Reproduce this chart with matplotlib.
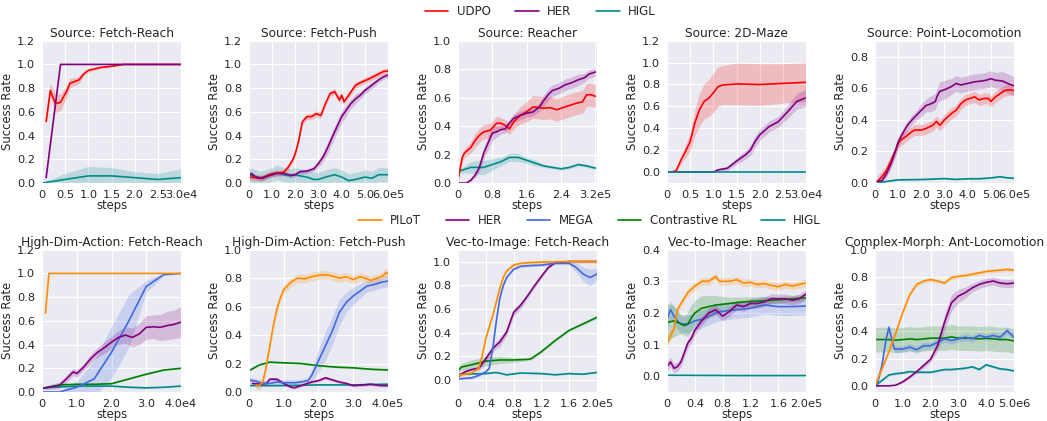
import matplotlib
matplotlib.use("Agg")
import matplotlib.pyplot as plt
import seaborn as sns
import numpy as np
from matplotlib.lines import Line2D

# colours
C_UDPO, C_HER, C_HIGL = "red", "purple", "darkcyan"
C_PILOT, C_MEGA, C_CRL = "darkorange", "royalblue", "green"

# ---- Source: Fetch-Reach (x in 1e4 steps)
FR_UDPO_X = [0.09, 0.18, 0.29, 0.4, 0.54, 0.6, 0.8, 0.9, 1.0, 1.27, 1.4, 1.6, 1.77, 2.0, 2.5, 3.0]
FR_UDPO = [0.52, 0.78, 0.67, 0.68, 0.78, 0.84, 0.87, 0.92, 0.95, 0.975, 0.98, 0.99, 1.0, 1.0, 1.0, 1.0]
FR_UDPO_SD = [0.035, 0.06, 0.08, 0.07, 0.05, 0.04, 0.03, 0.02, 0.015, 0.01, 0.01, 0.005, 0, 0, 0, 0]
FR_HER_X = [0.09, 0.4, 0.6, 3.0]
FR_HER = [0.045, 1.0, 1.0, 1.0]
FR_HIGL_X = [0, 0.5, 1.0, 1.5, 2.0, 2.5, 3.0]
FR_HIGL = [0.0, 0.03, 0.06, 0.06, 0.045, 0.03, 0.045]
FR_HIGL_SD = [0.0, 0.05, 0.08, 0.07, 0.05, 0.05, 0.075]

# ---- Source: Fetch-Push (1e5)
FP_UDPO_X = [0, 0.5, 1.0, 1.5, 1.7, 1.9, 2.0, 2.15, 2.3, 2.5, 2.7, 2.9, 3.1, 3.3, 3.5, 3.7, 3.9, 4.0, 4.1,
             4.3, 4.6, 4.9, 5.2, 5.5, 5.8, 6.0]
FP_UDPO = [0.05, 0.04, 0.08, 0.09, 0.135, 0.2, 0.25, 0.36, 0.515, 0.56, 0.56, 0.585, 0.57, 0.67, 0.755,
           0.77, 0.70, 0.74, 0.685, 0.74, 0.825, 0.855, 0.88, 0.91, 0.94, 0.945]
FP_HER_X = [0, 0.1, 0.3, 0.6, 0.8, 1.0, 1.2, 1.5, 1.8, 2.0, 2.2, 2.5, 2.8, 3.0, 3.2, 3.4, 3.6, 3.8, 4.0,
            4.2, 4.4, 4.6, 4.8, 5.0, 5.3, 5.6, 5.8, 6.0]
FP_HER = [0.06, 0.08, 0.05, 0.04, 0.06, 0.07, 0.08, 0.08, 0.065, 0.07, 0.095, 0.1, 0.12, 0.165, 0.22, 0.3,
          0.39, 0.475, 0.56, 0.615, 0.67, 0.71, 0.74, 0.78, 0.825, 0.87, 0.895, 0.91]
FP_HER_SD = [0.02] * 13 + [0.03, 0.04, 0.05, 0.05, 0.05, 0.05, 0.05, 0.04, 0.04, 0.03, 0.03, 0.03, 0.02, 0.02, 0.02]
FP_HIGL_X = [0, 0.5, 1.0, 1.2, 1.5, 1.8, 2.0, 2.2, 2.5, 2.8, 3.0, 3.3, 3.5, 3.7, 4.0, 4.3, 4.6, 5.0, 5.3, 5.6, 6.0]
FP_HIGL = [0.07, 0.04, 0.07, 0.09, 0.07, 0.06, 0.07, 0.06, 0.05, 0.03, 0.03, 0.05, 0.06, 0.07, 0.05, 0.02,
           0.03, 0.05, 0.04, 0.07, 0.07]

# ---- Source: Reacher (1e5)
RE_UDPO_X = [0, 0.1, 0.15, 0.3, 0.4, 0.5, 0.6, 0.75, 0.9, 1.0, 1.1, 1.2, 1.3, 1.45, 1.6, 1.75, 1.9, 2.0,
             2.15, 2.3, 2.45, 2.6, 2.75, 2.9, 3.0, 3.1, 3.2]
RE_UDPO = [0.02, 0.18, 0.21, 0.25, 0.30, 0.335, 0.36, 0.37, 0.42, 0.42, 0.405, 0.38, 0.43, 0.475, 0.5, 0.535,
           0.53, 0.525, 0.53, 0.515, 0.53, 0.545, 0.56, 0.57, 0.62, 0.62, 0.61]
RE_UDPO_SD = [0.02, 0.03, 0.03, 0.04, 0.05, 0.05, 0.05, 0.05, 0.05, 0.04, 0.04, 0.04, 0.05, 0.06, 0.07,
              0.08, 0.08, 0.08, 0.08, 0.08, 0.08, 0.08, 0.08, 0.08, 0.08, 0.08, 0.08]
RE_HER_X = [0, 0.2, 0.3, 0.4, 0.5, 0.6, 0.7, 0.8, 0.9, 1.0, 1.1, 1.2, 1.3, 1.45, 1.6, 1.75, 1.9, 2.0, 2.1,
            2.2, 2.35, 2.5, 2.65, 2.8, 2.95, 3.05, 3.2]
RE_HER = [0.0, 0.0, 0.02, 0.055, 0.11, 0.21, 0.28, 0.35, 0.36, 0.375, 0.38, 0.42, 0.455, 0.475, 0.49, 0.5,
          0.535, 0.58, 0.62, 0.65, 0.665, 0.69, 0.705, 0.725, 0.74, 0.765, 0.78]
RE_HER_SD = [0, 0, 0.01, 0.02, 0.03, 0.04, 0.05, 0.05, 0.04, 0.03, 0.03, 0.03, 0.03, 0.03, 0.03, 0.03,
             0.03, 0.04, 0.04, 0.04, 0.04, 0.04, 0.04, 0.04, 0.03, 0.03, 0.03]
RE_HIGL_X = [0, 0.1, 0.3, 0.5, 0.6, 0.8, 1.0, 1.2, 1.4, 1.6, 1.8, 2.0, 2.2, 2.4, 2.6, 2.8, 3.0, 3.2]
RE_HIGL = [0.085, 0.09, 0.11, 0.11, 0.11, 0.13, 0.15, 0.18, 0.18, 0.16, 0.14, 0.12, 0.11, 0.10, 0.11, 0.13,
           0.12, 0.105]
RE_HIGL_SD = [0.01, 0.02, 0.04, 0.05, 0.05, 0.04, 0.03, 0.03, 0.03, 0.02, 0.02, 0.01, 0.01, 0.01, 0.01,
              0.01, 0.01, 0.01]

# ---- Source: 2D-Maze (1e4)
MZ_UDPO_X = [0, 0.1, 0.2, 0.3, 0.4, 0.5, 0.6, 0.7, 0.8, 0.9, 1.0, 1.1, 1.2, 1.5, 2.0, 2.5, 3.0]
MZ_UDPO = [0, 0, 0.015, 0.11, 0.19, 0.28, 0.45, 0.57, 0.645, 0.675, 0.725, 0.78, 0.795, 0.805, 0.80, 0.81, 0.82]
MZ_UDPO_SD = [0, 0, 0.01, 0.04, 0.06, 0.08, 0.12, 0.15, 0.16, 0.17, 0.18, 0.18, 0.18, 0.19, 0.19, 0.18, 0.18]
MZ_HER_X = [0, 1.0, 1.1, 1.3, 1.5, 1.7, 1.8, 1.9, 2.0, 2.2, 2.4, 2.6, 2.8, 3.0]
MZ_HER = [0, 0, 0.02, 0.035, 0.1, 0.16, 0.2, 0.28, 0.34, 0.415, 0.46, 0.55, 0.645, 0.68]
MZ_HER_SD = [0, 0, 0.01, 0.02, 0.03, 0.04, 0.05, 0.05, 0.05, 0.05, 0.05, 0.06, 0.07, 0.08]
MZ_HIGL_X = [0, 3.0]
MZ_HIGL = [0.0, 0.0]

# ---- Source: Point-Locomotion (1e5)
PL_UDPO_X = [0.1, 0.3, 0.5, 0.7, 0.9, 1.0, 1.1, 1.3, 1.5, 1.7, 2.0, 2.2, 2.5, 2.65, 2.8, 3.0, 3.3, 3.5, 3.7,
             3.9, 4.1, 4.3, 4.5, 4.7, 4.9, 5.0, 5.2, 5.4, 5.6, 5.8, 6.0]
PL_UDPO = [0.01, 0.04, 0.08, 0.145, 0.21, 0.25, 0.27, 0.29, 0.315, 0.335, 0.335, 0.345, 0.365, 0.39, 0.365,
           0.40, 0.44, 0.46, 0.50, 0.525, 0.535, 0.545, 0.525, 0.535, 0.535, 0.515, 0.545, 0.565, 0.585,
           0.59, 0.585]
PL_HER_X = [0.1, 0.3, 0.5, 0.7, 0.9, 1.0, 1.2, 1.4, 1.6, 1.8, 2.0, 2.2, 2.4, 2.6, 2.7, 2.8, 3.0, 3.3, 3.5,
            3.7, 4.0, 4.3, 4.6, 4.8, 5.0, 5.2, 5.5, 5.8, 6.0]
PL_HER = [0.01, 0.015, 0.06, 0.125, 0.21, 0.26, 0.315, 0.365, 0.40, 0.43, 0.46, 0.49, 0.50, 0.515, 0.555,
          0.58, 0.59, 0.61, 0.63, 0.62, 0.63, 0.64, 0.645, 0.65, 0.66, 0.65, 0.645, 0.625, 0.615]
PL_HER_SD = [0.01, 0.015, 0.02, 0.03, 0.03, 0.03, 0.03, 0.03, 0.03, 0.03, 0.04, 0.04, 0.05, 0.05, 0.05,
             0.06, 0.06, 0.05, 0.05, 0.05, 0.05, 0.05, 0.05, 0.05, 0.05, 0.05, 0.06, 0.06, 0.06]
PL_HIGL_X = [0.1, 0.5, 1.0, 2.0, 3.0, 3.5, 4.0, 4.5, 5.0, 5.4, 5.7, 6.0]
PL_HIGL = [0.0, 0.01, 0.02, 0.022, 0.028, 0.023, 0.027, 0.027, 0.032, 0.04, 0.033, 0.03]

# ---- High-Dim-Action: Fetch-Reach (1e4)
H1_PILOT_X = [0.1, 0.2, 4.0]
H1_PILOT = [0.665, 1.0, 1.0]
H1_HER_X = [0, 0.2, 0.5, 0.7, 0.9, 1.0, 1.2, 1.4, 1.6, 1.8, 2.0, 2.2, 2.4, 2.6, 2.8, 3.0, 3.2, 3.4, 3.6, 3.8, 4.0]
H1_HER = [0.03, 0.04, 0.055, 0.11, 0.17, 0.155, 0.21, 0.28, 0.335, 0.375, 0.42, 0.46, 0.48, 0.46, 0.49,
          0.545, 0.55, 0.545, 0.56, 0.57, 0.59]
H1_HER_SD = [0.01, 0.02, 0.03, 0.03, 0.03, 0.03, 0.03, 0.04, 0.04, 0.05, 0.05, 0.06, 0.07, 0.08, 0.09,
             0.1, 0.1, 0.11, 0.12, 0.12, 0.13]
H1_MEGA_X = [0, 0.5, 1.0, 1.5, 2.0, 2.5, 3.0, 3.5, 4.0]
H1_MEGA = [0.0, 0.0, 0.04, 0.11, 0.335, 0.6, 0.89, 0.99, 1.0]
H1_MEGA_SD = [0, 0.01, 0.05, 0.15, 0.22, 0.22, 0.05, 0.01, 0]
H1_CRL_X = [0, 0.5, 1.0, 1.5, 2.0, 2.5, 3.0, 3.5, 4.0]
H1_CRL = [0.03, 0.06, 0.065, 0.065, 0.07, 0.11, 0.15, 0.185, 0.2]
H1_HIGL_X = [0, 1.0, 2.0, 2.5, 3.0, 3.5, 4.0]
H1_HIGL = [0.035, 0.05, 0.05, 0.04, 0.035, 0.04, 0.05]

# ---- High-Dim-Action: Fetch-Push (1e5)
H2_PILOT_X = [0.2, 0.3, 0.4, 0.5, 0.6, 0.7, 0.8, 0.9, 1.0, 1.2, 1.4, 1.6, 1.8, 2.0, 2.2, 2.4, 2.6, 2.8, 3.0,
              3.2, 3.4, 3.5, 3.7, 3.85, 3.95, 4.0]
H2_PILOT = [0.05, 0.045, 0.07, 0.185, 0.325, 0.465, 0.58, 0.66, 0.72, 0.77, 0.80, 0.795, 0.81, 0.82, 0.825,
            0.815, 0.80, 0.81, 0.79, 0.81, 0.795, 0.785, 0.80, 0.815, 0.84, 0.83]
H2_HER_X = [0.1, 0.3, 0.5, 0.6, 0.8, 1.0, 1.2, 1.3, 1.5, 1.8, 2.0, 2.2, 2.4, 2.6, 2.8, 3.0, 3.3, 3.5, 3.8, 4.0]
H2_HER = [0.06, 0.055, 0.06, 0.09, 0.09, 0.06, 0.035, 0.03, 0.045, 0.07, 0.08, 0.1, 0.085, 0.07, 0.06,
          0.045, 0.05, 0.055, 0.045, 0.045]
H2_MEGA_X = [0, 0.2, 0.4, 0.6, 0.8, 1.0, 1.3, 1.5, 1.7, 1.8, 1.9, 2.0, 2.2, 2.4, 2.6, 2.8, 3.0, 3.2, 3.4,
             3.6, 3.8, 4.0]
H2_MEGA = [0.085, 0.075, 0.06, 0.06, 0.07, 0.065, 0.065, 0.07, 0.08, 0.115, 0.165, 0.22, 0.325, 0.43, 0.56,
           0.63, 0.675, 0.71, 0.745, 0.755, 0.77, 0.78]
H2_MEGA_SD = [0.02] * 9 + [0.04, 0.06, 0.08, 0.1, 0.1, 0.09, 0.07, 0.06, 0.05, 0.04, 0.04, 0.04, 0.04]
H2_CRL_X = [0, 0.3, 0.6, 1.0, 1.5, 2.0, 2.5, 3.0, 3.5, 4.0]
H2_CRL = [0.15, 0.19, 0.21, 0.205, 0.2, 0.185, 0.175, 0.17, 0.16, 0.155]
H2_HIGL_X = [0, 1.0, 2.0, 3.0, 4.0]
H2_HIGL = [0.045, 0.045, 0.05, 0.05, 0.055]

# ---- Vec-to-Image: Fetch-Reach (1e5)
V1_PILOT_X = [0, 0.1, 0.2, 0.3, 0.35, 0.4, 0.5, 0.55, 0.6, 0.65, 0.7, 0.8, 0.9, 1.0, 1.2, 1.6, 2.0]
V1_PILOT = [0.04, 0.05, 0.06, 0.1, 0.21, 0.35, 0.545, 0.655, 0.77, 0.865, 0.92, 0.97, 0.985, 0.99, 0.995, 1.0, 1.0]
V1_HER_X = [0, 0.1, 0.2, 0.3, 0.4, 0.5, 0.55, 0.6, 0.7, 0.8, 0.9, 1.0, 1.1, 1.2, 1.3, 1.4, 1.6, 2.0]
V1_HER = [0.03, 0.07, 0.09, 0.1, 0.18, 0.265, 0.295, 0.32, 0.405, 0.57, 0.63, 0.71, 0.795, 0.875, 0.95,
          0.99, 1.0, 1.0]
V1_HER_SD = [0.01, 0.01, 0.01, 0.02, 0.03, 0.03, 0.03, 0.04, 0.03, 0.03, 0.03, 0.02, 0.02, 0.02, 0.01,
             0.005, 0, 0]
V1_MEGA_X = [0, 0.2, 0.3, 0.4, 0.45, 0.5, 0.55, 0.6, 0.65, 0.7, 0.8, 0.9, 1.0, 1.2, 1.4, 1.6, 1.7, 1.8, 1.9, 2.0]
V1_MEGA = [0.01, 0.02, 0.04, 0.07, 0.1, 0.265, 0.49, 0.685, 0.795, 0.865, 0.935, 0.96, 0.965, 0.97, 0.985,
           0.985, 0.95, 0.895, 0.865, 0.895]
V1_MEGA_SD = [0.01] * 16 + [0.04, 0.06, 0.07, 0.05]
V1_CRL_X = [0, 0.05, 0.2, 0.4, 0.6, 0.8, 1.0, 1.05, 1.2, 1.4, 1.6, 1.8, 2.0]
V1_CRL = [0.08, 0.11, 0.13, 0.16, 0.17, 0.17, 0.175, 0.18, 0.24, 0.335, 0.42, 0.475, 0.53]
V1_CRL_SD = [0.02, 0.03, 0.04, 0.04, 0.03, 0.02, 0.01, 0.01, 0.01, 0.01, 0.01, 0.01, 0.01]
V1_HIGL_X = [0, 0.4, 0.55, 0.7, 0.9, 1.2, 1.4, 1.6, 1.8, 2.0]
V1_HIGL = [0.05, 0.055, 0.065, 0.045, 0.06, 0.055, 0.045, 0.055, 0.05, 0.065]

# ---- Vec-to-Image: Reacher (1e5)
V2_PILOT_X = [0, 0.05, 0.1, 0.15, 0.2, 0.3, 0.4, 0.5, 0.6, 0.7, 0.75, 0.9, 1.0, 1.1, 1.2, 1.3, 1.4, 1.5,
              1.6, 1.7, 1.8, 1.9, 2.0]
V2_PILOT = [0.1, 0.13, 0.15, 0.21, 0.23, 0.265, 0.285, 0.30, 0.30, 0.315, 0.30, 0.30, 0.305, 0.295, 0.297,
            0.29, 0.293, 0.287, 0.283, 0.29, 0.285, 0.29, 0.295]
V2_HER_X = [0, 0.05, 0.1, 0.15, 0.2, 0.25, 0.3, 0.35, 0.4, 0.5, 0.6, 0.7, 0.8, 0.9, 1.0, 1.1, 1.2, 1.3,
            1.4, 1.5, 1.6, 1.7, 1.8, 1.9, 2.0]
V2_HER = [0.03, 0.045, 0.025, 0.03, 0.045, 0.075, 0.105, 0.12, 0.145, 0.175, 0.2, 0.21, 0.19, 0.205, 0.225,
          0.22, 0.23, 0.23, 0.235, 0.245, 0.245, 0.245, 0.24, 0.245, 0.26]
V2_MEGA_X = [0, 0.05, 0.1, 0.15, 0.2, 0.3, 0.4, 0.5, 0.6, 0.7, 0.8, 1.0, 1.2, 1.4, 1.6, 1.8, 2.0]
V2_MEGA = [0.18, 0.21, 0.19, 0.175, 0.165, 0.165, 0.175, 0.18, 0.19, 0.2, 0.205, 0.21, 0.215, 0.225, 0.22,
           0.22, 0.222]
V2_CRL_X = [0, 0.1, 0.15, 0.2, 0.25, 0.3, 0.35, 0.4, 0.5, 0.7, 0.9, 1.1, 1.3, 1.5, 1.7, 2.0]
V2_CRL = [0.17, 0.175, 0.17, 0.165, 0.16, 0.165, 0.185, 0.2, 0.215, 0.225, 0.23, 0.235, 0.237, 0.24, 0.243, 0.248]
V2_CRL_SD = [0.06, 0.05, 0.04, 0.03, 0.03, 0.04, 0.04, 0.04, 0.04, 0.03, 0.02, 0.015, 0.015, 0.01, 0.01, 0.01]
V2_HIGL_X = [0, 1.0, 2.0]
V2_HIGL = [0.003, 0.002, 0.002]

# ---- Complex-Morph: Ant-Locomotion (1e6)
AL_X = [0, 0.25, 0.5, 0.75, 1.0, 1.25, 1.5, 1.75, 2.0, 2.25, 2.5, 2.75, 3.0, 3.25, 3.5, 3.75, 4.0, 4.25,
        4.5, 4.75, 5.0]
AL_PILOT = [0.0, 0.125, 0.25, 0.39, 0.54, 0.67, 0.745, 0.77, 0.78, 0.77, 0.755, 0.795, 0.805, 0.81, 0.82,
            0.83, 0.84, 0.845, 0.85, 0.855, 0.85]
AL_HER = [0.0, 0.0, 0.0, 0.005, 0.03, 0.065, 0.105, 0.15, 0.195, 0.295, 0.465, 0.61, 0.66, 0.685, 0.72,
          0.745, 0.76, 0.77, 0.755, 0.75, 0.755]
AL_HER_SD = [0, 0, 0, 0, 0.01, 0.01, 0.01, 0.02, 0.02, 0.04, 0.06, 0.06, 0.05, 0.04, 0.03, 0.03, 0.03,
             0.03, 0.03, 0.03, 0.03]
AL_MEGA_X = [0, 0.1, 0.25, 0.4, 0.5, 0.6, 0.7, 1.0, 1.25, 1.5, 1.75, 2.0, 2.25, 2.5, 2.75, 3.0, 3.25, 3.5,
             3.75, 4.0, 4.25, 4.5, 4.75, 5.0]
AL_MEGA = [0.0, 0.03, 0.15, 0.345, 0.43, 0.345, 0.27, 0.27, 0.285, 0.265, 0.295, 0.295, 0.32, 0.345, 0.333,
           0.345, 0.357, 0.345, 0.37, 0.357, 0.37, 0.357, 0.405, 0.357]
AL_CRL = [0.34, 0.34, 0.34, 0.335, 0.34, 0.345, 0.34, 0.345, 0.35, 0.35, 0.35, 0.36, 0.35, 0.35, 0.35,
          0.345, 0.35, 0.345, 0.34, 0.34, 0.33]
AL_HIGL = [0.0, 0.04, 0.08, 0.09, 0.095, 0.105, 0.1, 0.1, 0.1, 0.11, 0.12, 0.12, 0.125, 0.13, 0.14, 0.12,
           0.155, 0.14, 0.125, 0.12, 0.11]

TOP_NAMES = ["UDPO", "HER", "HIGL"]
BOT_NAMES = ["PILoT", "HER", "MEGA", "Contrastive RL", "HIGL"]

LEFTS = [0.0401, 0.2378, 0.4374, 0.6371, 0.8357]
W, H = 0.1328, 0.338
BOTTOMS = [0.5653, 0.0689]
FS_TITLE, FS_LABEL, FS_TICK, FS_LEG = 8.7, 8.4, 8.2, 8.5


def curve(ax, x, y, color, sd=0.0):
    x, y = np.asarray(x, float), np.asarray(y, float)
    sd = np.broadcast_to(np.asarray(sd, float), y.shape)
    ax.fill_between(x, y - sd, y + sd, color=color, alpha=0.2, lw=0)
    ax.plot(x, y, color=color, lw=1.2)


def style(ax, title, xmax, xticks, suffix, ylim, yticks, xlim_hi=None):
    ax.set_xlim(0, xlim_hi if xlim_hi else xmax)
    ax.set_ylim(*ylim)
    ax.set_xticks(xticks)
    labels = ["0"] + [f"{t:.1f}" for t in xticks[1:]]
    labels[-1] += suffix
    ax.set_xticklabels(labels)
    ax.set_yticks(yticks)
    ax.set_yticklabels([f"{t:.1f}" for t in yticks])
    ax.set_title(title, fontsize=FS_TITLE, pad=3, color=".15")
    ax.set_xlabel("steps", fontsize=FS_LABEL, labelpad=-1)
    ax.set_ylabel("Success Rate", fontsize=FS_LABEL, labelpad=2)
    ax.tick_params(labelsize=FS_TICK, pad=1.5)


def main():
    sns.set_style("darkgrid")
    plt.rcParams["font.family"] = ["DejaVu Sans"]
    fig = plt.figure(figsize=(10.47, 4.21), dpi=100)
    axs = [[fig.add_axes([l, b, W, H]) for l in LEFTS] for b in BOTTOMS]
    y12 = np.arange(0, 1.21, 0.2)
    y10 = np.arange(0, 1.01, 0.2)

    ax = axs[0][0]
    curve(ax, FR_HIGL_X, FR_HIGL, C_HIGL, FR_HIGL_SD)
    curve(ax, FR_UDPO_X, FR_UDPO, C_UDPO, FR_UDPO_SD)
    curve(ax, FR_HER_X, FR_HER, C_HER)
    style(ax, "Source: Fetch-Reach", 3.0, [0, 0.5, 1, 1.5, 2, 2.5, 3], "e4", (0, 1.2), y12)

    ax = axs[0][1]
    curve(ax, FP_HIGL_X, FP_HIGL, C_HIGL, 0.06)
    curve(ax, FP_UDPO_X, FP_UDPO, C_UDPO, 0.025)
    curve(ax, FP_HER_X, FP_HER, C_HER, FP_HER_SD)
    style(ax, "Source: Fetch-Push", 6.0, [0, 1, 2, 3, 4, 5, 6], "e5", (0, 1.2), y12)

    ax = axs[0][2]
    curve(ax, RE_HIGL_X, RE_HIGL, C_HIGL, RE_HIGL_SD)
    curve(ax, RE_UDPO_X, RE_UDPO, C_UDPO, RE_UDPO_SD)
    curve(ax, RE_HER_X, RE_HER, C_HER, RE_HER_SD)
    style(ax, "Source: Reacher", 3.2, [0, 0.8, 1.6, 2.4, 3.2], "e5", (0, 1.0), y10, xlim_hi=3.24)

    ax = axs[0][3]
    curve(ax, MZ_UDPO_X, MZ_UDPO, C_UDPO, MZ_UDPO_SD)
    curve(ax, MZ_HER_X, MZ_HER, C_HER, MZ_HER_SD)
    curve(ax, MZ_HIGL_X, MZ_HIGL, C_HIGL)
    style(ax, "Source: 2D-Maze", 3.0, [0, 0.5, 1, 1.5, 2, 2.5, 3], "e4", (-0.1, 1.2), y12)

    ax = axs[0][4]
    curve(ax, PL_HIGL_X, PL_HIGL, C_HIGL, 0.004)
    curve(ax, PL_UDPO_X, PL_UDPO, C_UDPO, 0.035)
    curve(ax, PL_HER_X, PL_HER, C_HER, PL_HER_SD)
    style(ax, "Source: Point-Locomotion", 6.0, [0, 1, 2, 3, 4, 5, 6], "e5", (0, 0.9),
          np.arange(0, 0.81, 0.2))

    ax = axs[1][0]
    curve(ax, H1_HIGL_X, H1_HIGL, C_HIGL, 0.004)
    curve(ax, H1_CRL_X, H1_CRL, C_CRL, 0.005)
    curve(ax, H1_MEGA_X, H1_MEGA, C_MEGA, H1_MEGA_SD)
    curve(ax, H1_HER_X, H1_HER, C_HER, H1_HER_SD)
    curve(ax, H1_PILOT_X, H1_PILOT, C_PILOT)
    style(ax, "High-Dim-Action: Fetch-Reach", 4.0, [0, 1, 2, 3, 4], "e4", (0, 1.2), y12)

    ax = axs[1][1]
    curve(ax, H2_HIGL_X, H2_HIGL, C_HIGL, 0.004)
    curve(ax, H2_CRL_X, H2_CRL, C_CRL, 0.005)
    curve(ax, H2_HER_X, H2_HER, C_HER, 0.01)
    curve(ax, H2_MEGA_X, H2_MEGA, C_MEGA, H2_MEGA_SD)
    curve(ax, H2_PILOT_X, H2_PILOT, C_PILOT, 0.03)
    style(ax, "High-Dim-Action: Fetch-Push", 4.0, [0, 1, 2, 3, 4], "e5", (0, 1.0), y10)

    ax = axs[1][2]
    curve(ax, V1_HIGL_X, V1_HIGL, C_HIGL, 0.004)
    curve(ax, V1_CRL_X, V1_CRL, C_CRL, V1_CRL_SD)
    curve(ax, V1_HER_X, V1_HER, C_HER, V1_HER_SD)
    curve(ax, V1_MEGA_X, V1_MEGA, C_MEGA, V1_MEGA_SD)
    curve(ax, V1_PILOT_X, V1_PILOT, C_PILOT, 0.015)
    style(ax, "Vec-to-Image: Fetch-Reach", 2.0, [0, 0.4, 0.8, 1.2, 1.6, 2.0], "e5", (-0.1, 1.1), y10)

    ax = axs[1][3]
    curve(ax, V2_HIGL_X, V2_HIGL, C_HIGL, 0.002)
    curve(ax, V2_MEGA_X, V2_MEGA, C_MEGA, 0.028)
    curve(ax, V2_CRL_X, V2_CRL, C_CRL, V2_CRL_SD)
    curve(ax, V2_HER_X, V2_HER, C_HER, 0.015)
    curve(ax, V2_PILOT_X, V2_PILOT, C_PILOT, 0.012)
    style(ax, "Vec-to-Image: Reacher", 2.0, [0, 0.4, 0.8, 1.2, 1.6, 2.0], "e5", (-0.05, 0.4),
          np.arange(0, 0.41, 0.1))

    ax = axs[1][4]
    curve(ax, AL_X, AL_CRL, C_CRL, 0.09)
    curve(ax, AL_X, AL_HIGL, C_HIGL, 0.008)
    curve(ax, AL_MEGA_X, AL_MEGA, C_MEGA, 0.025)
    curve(ax, AL_X, AL_HER, C_HER, AL_HER_SD)
    curve(ax, AL_X, AL_PILOT, C_PILOT, 0.015)
    style(ax, "Complex-Morph: Ant-Locomotion", 5.0, [0, 1, 2, 3, 4, 5], "e6", (-0.045, 1.0), y10)

    top_h = [Line2D([], [], color=c, lw=1.2) for c in (C_UDPO, C_HER, C_HIGL)]
    fig.legend(top_h, TOP_NAMES, loc="center", bbox_to_anchor=(0.516, 0.972), ncol=3, frameon=False,
               fontsize=FS_LEG, handlelength=2.0, handletextpad=0.7, columnspacing=2.1)
    bot_h = [Line2D([], [], color=c, lw=1.2) for c in (C_PILOT, C_HER, C_MEGA, C_CRL, C_HIGL)]
    fig.legend(bot_h, BOT_NAMES, loc="center", bbox_to_anchor=(0.563, 0.476), ncol=5, frameon=False,
               fontsize=FS_LEG, handlelength=2.0, handletextpad=0.7, columnspacing=2.1)
    fig.savefig("out.png", dpi=100)
    plt.close(fig)


if __name__ == "__main__":
    main()
